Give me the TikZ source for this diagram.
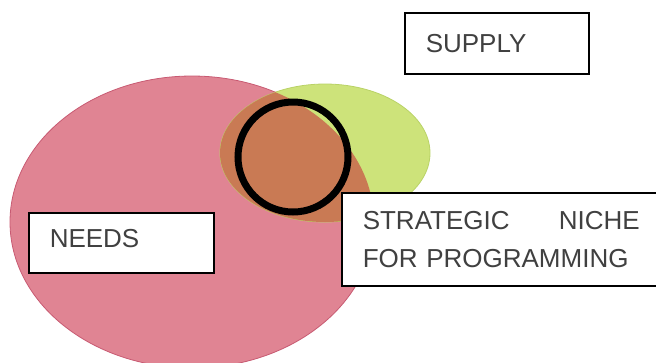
\documentclass[tikz,border=0pt]{standalone}
\usepackage{fontspec}
\setmainfont{Liberation Sans}
\definecolor{needsred}{HTML}{E08493}
\definecolor{needsline}{HTML}{C85A72}
\definecolor{supplygreen}{HTML}{CDE37A}
\definecolor{supplyline}{HTML}{B9D266}
\definecolor{nicheorange}{HTML}{C97A54}
\definecolor{labelgray}{HTML}{404040}
\tikzset{
    labelbox/.style={draw=black, line width=1.5bp, fill=white, text=labelgray,
        font=\fontsize{26bp}{38bp}\selectfont, inner xsep=21bp, inner ysep=0pt,
        align=left, anchor=north west},
}
\begin{document}
\begin{tikzpicture}[x=1bp,y=-1bp]
    \useasboundingbox (0,0) rectangle (656,362);
    % Draw needs and supply
    \fill[needsred, draw=needsline, line width=0.8bp] (192,222) ellipse [x radius=182, y radius=146];
    \fill[supplygreen, draw=supplyline, line width=0.8bp] (325,153) ellipse [x radius=105, y radius=69];
    
    % Overlap of the two
    \begin{scope}
        \clip (192,222) ellipse [x radius=182, y radius=146];
        \fill[nicheorange] (325,153) ellipse [x radius=105, y radius=69];
    \end{scope}
    
    % Niche ring
    \draw[black, line width=7bp] (293,157) circle [radius=55];
    
    \node[labelbox, text width=142bp, minimum height=61bp] (supply) at (404,12) {SUPPLY};
    \node[labelbox, text width=143bp, minimum height=60bp, text depth=8bp] (needs) at (28,212) {NEEDS};
    \node[labelbox, text width=277bp, minimum height=93bp] (niche) at (341,192)
        {STRATEGIC\hfill NICHE\\FOR PROGRAMMING};
\end{tikzpicture}
\end{document}
